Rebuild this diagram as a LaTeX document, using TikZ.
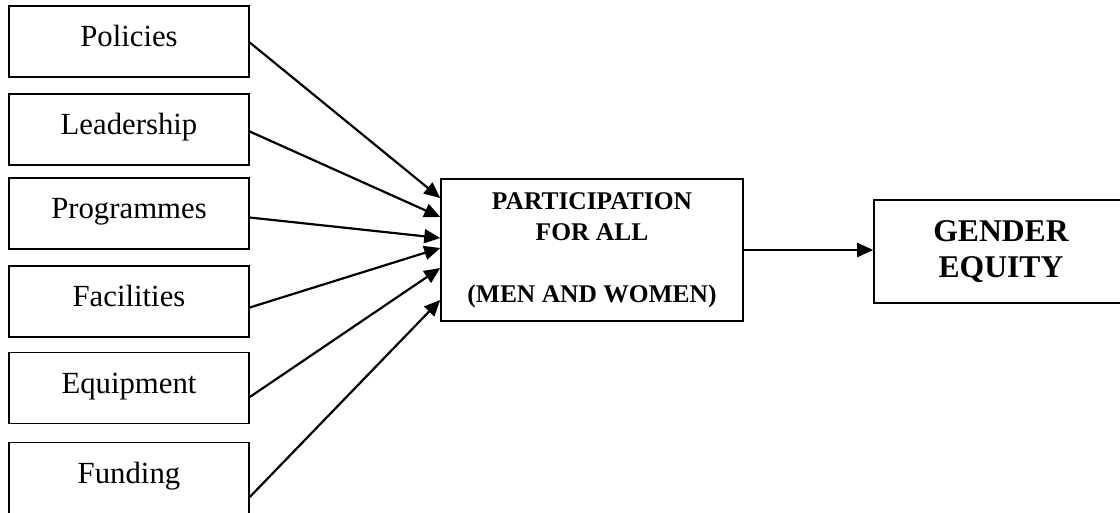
\documentclass[tikz,border=0pt]{standalone}
\usepackage{fontspec}
\setmainfont{Liberation Serif}
\usepackage{tikz}
\usetikzlibrary{calc}
\usetikzlibrary{arrows.meta}
\tikzset{factor/.style = {shape=rectangle,draw,line width=0.9pt,minimum width=4.8cm,minimum height=1.42cm,inner sep=0pt,text height=12pt,text depth=6pt,font=\fontsize{17.5}{20}\selectfont}}
\tikzset{edge/.style = {-{Triangle[length=0.32cm,width=0.28cm]},line width=1.25pt}}

\begin{document}
\begin{tikzpicture}[x=0.02cm,y=-0.02cm]
            \useasboundingbox (0,0) rectangle (1120,512);
            % Factors
            \node[factor] (pol) at (129,41.5) {Policies};
            \node[factor] (lea) at (129,129.5) {Leadership};
            \node[factor] (pro) at (129,213.5) {Programmes};
            \node[factor] (fac) at (129,301.5) {Facilities};
            \node[factor] (equ) at (129,388) {Equipment};
            \node[factor] (fun) at (129,478) {Funding};

            % Outcomes
            \node[draw,line width=0.9pt,minimum width=6.04cm,minimum height=2.84cm,align=center,
                  font=\bfseries\fontsize{14.5}{17.6}\selectfont] (par) at (592,250)
                  {PARTICIPATION\\FOR ALL\\[17.6pt](MEN AND WOMEN)};
            \node[draw,line width=0.9pt,minimum width=5.08cm,minimum height=2.06cm,align=center,
                  font=\bfseries\fontsize{18}{20.5}\selectfont] (gen) at (1001,251.5)
                  {GENDER\\EQUITY};

            % Edges
            \draw[edge] ($(pol.east)+(0,1)$) to ($(par.west)+(0,-52)$);
            \draw[edge] ($(lea.east)+(0,2)$) to ($(par.west)+(0,-33)$);
            \draw[edge] ($(pro.east)+(0,4)$) to ($(par.west)+(0,-12)$);
            \draw[edge] ($(fac.east)+(0,6)$) to ($(par.west)+(0,-2)$);
            \draw[edge] ($(equ.east)+(0,9)$) to ($(par.west)+(0,18)$);
            \draw[edge] ($(fun.east)+(0,19)$) to ($(par.west)+(0,50)$);

            \draw[edge] (par.east) to (par.east -| gen.west);
        \end{tikzpicture}
\end{document}
